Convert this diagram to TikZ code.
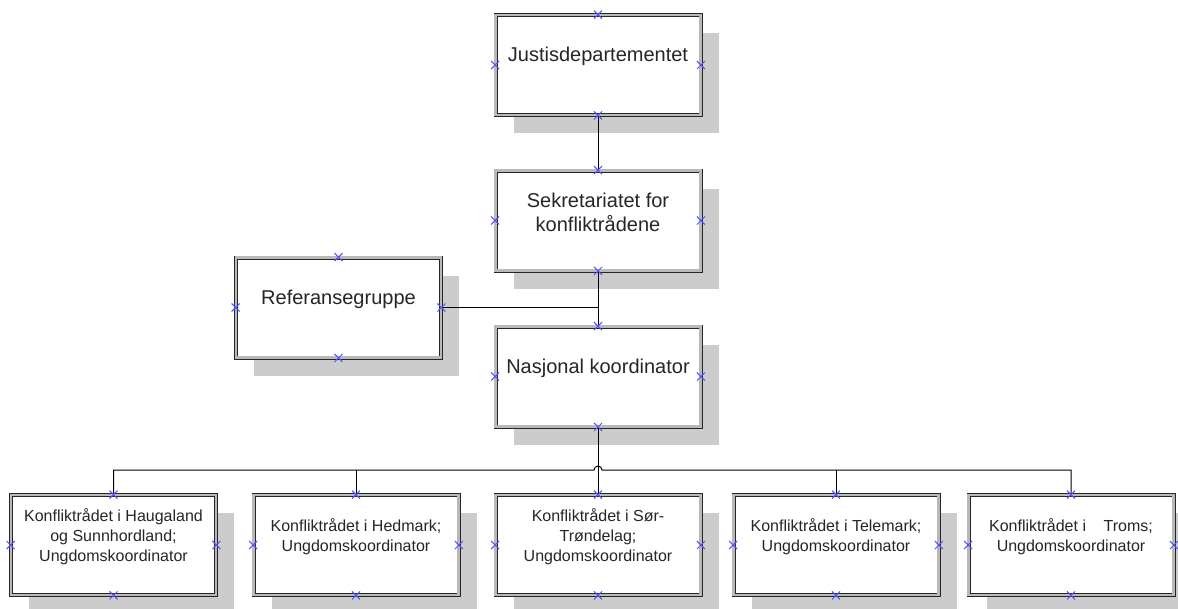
\documentclass[tikz,border=0pt]{standalone}
\usepackage{fontspec}
\setmainfont{Liberation Sans}
\usetikzlibrary{shadows,shapes.misc}

\begin{document}
\begin{tikzpicture}[x=1pt, y=-1pt,
    caja/.style={draw=black!85, line width=0.9pt, double=gray!55, double distance=2.2pt,
        fill=white, minimum width=205pt, minimum height=100pt, inner sep=0pt,
        drop shadow={shadow xshift=18pt, shadow yshift=-18pt, fill=sombra, opacity=1}},
    texto/.style={anchor=center, yshift=-42pt, align=center, text=black!85, inner sep=0pt},
    grande/.style={texto, font=\fontsize{20}{24}\selectfont},
    chica/.style={texto, font=\fontsize{16}{20}\selectfont},
    marca/.style={cross out, draw=azulx, line width=1pt, minimum size=7pt, inner sep=0pt},
    linea/.style={line width=1pt}]
        % Definición de colores
        \definecolor{sombra}{RGB}{204, 204, 204}
        \definecolor{azulx}{RGB}{80, 80, 255}

        \useasboundingbox (0,0) rectangle (1178,608);

        % Cajas de la dirección
        \node[caja, label={[grande]north:Justisdepartementet}] (justis) at (598,65) {};
        \node[caja, label={[grande]north:Sekretariatet for\\konfliktrådene}] (sekr) at (598,220.5) {};
        \node[caja, label={[grande]north:Referansegruppe}] (ref) at (338.5,307.5) {};
        \node[caja, label={[grande]north:Nasjonal koordinator}] (nasj) at (598,376.5) {};

        % Cajas de los consejos (fila de abajo)
        \node[caja, label={[chica]north:Konfliktrådet i Haugaland\\og Sunnhordland;\\Ungdomskoordinator}] (kr1) at (113.5,545) {};
        \node[caja, label={[chica]north:Konfliktrådet i Hedmark;\\Ungdomskoordinator}] (kr2) at (356,545) {};
        \node[caja, label={[chica]north:Konfliktrådet i Sør-\\Trøndelag;\\Ungdomskoordinator}] (kr3) at (598,545) {};
        \node[caja, label={[chica]north:Konfliktrådet i\hspace{1.1em}Troms;\\Ungdomskoordinator}] (kr5) at (1071,545) {};
        \node[caja, label={[chica]north:Konfliktrådet i Telemark;\\Ungdomskoordinator}] (kr4) at (836,545) {};

        % Conectores
        \coordinate (bus) at (598,470);
        \draw[linea] (justis.south) -- (sekr.north);
        \draw[linea] (sekr.south) -- (nasj.north);
        \draw[linea] (ref.east) -- (ref.east -| sekr.south);
        \draw[linea] (nasj.south) -- (kr3.north);
        \draw[linea] (kr1.north) -- (kr1.north |- bus) -- ([xshift=-4pt]bus)
            arc[start angle=180, end angle=0, radius=4pt] -- (kr5.north |- bus) -- (kr5.north);
        \draw[linea] (kr2.north) -- (kr2.north |- bus);
        \draw[linea] (kr4.north) -- (kr4.north |- bus);

        % Puntos de conexión (cruces azules)
        \foreach \c in {justis,sekr,ref,nasj,kr1,kr2,kr3,kr4,kr5}
            \foreach \a in {north,south,east,west}
                \node[marca] (\c-\a) at (\c.\a) {};

    \end{tikzpicture}
\end{document}
